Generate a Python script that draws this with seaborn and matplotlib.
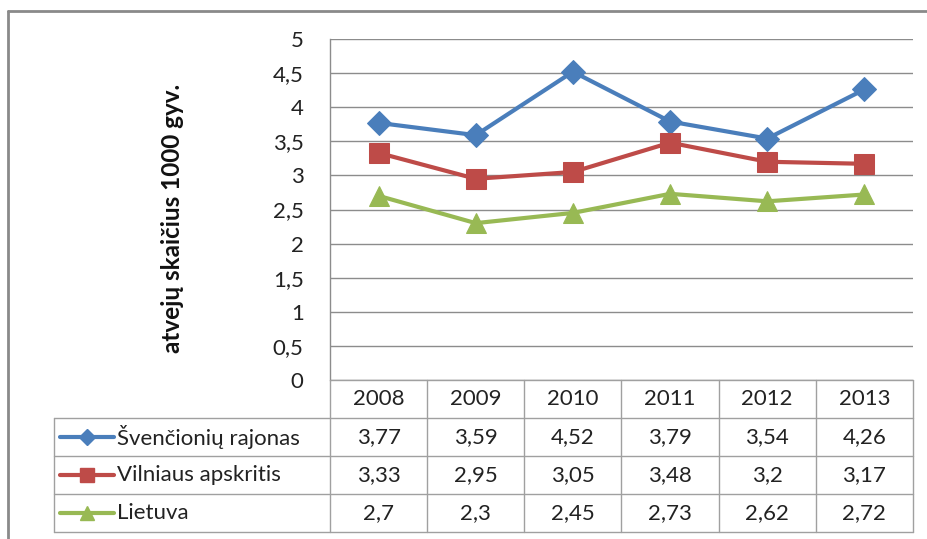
import numpy as np
import pandas as pd
import matplotlib.pyplot as plt
import seaborn as sns
from matplotlib.lines import Line2D

years = ['2008', '2009', '2010', '2011', '2012', '2013']
series_names = ['Švenčionių rajonas', 'Vilniaus apskritis', 'Lietuva']
svencioniu = [3.77, 3.59, 4.52, 3.79, 3.54, 4.26]
vilniaus = [3.33, 2.95, 3.05, 3.48, 3.2, 3.17]
lietuva = [2.7, 2.3, 2.45, 2.73, 2.62, 2.72]
y_ticks = [0, 0.5, 1, 1.5, 2, 2.5, 3, 3.5, 4, 4.5, 5]

colors = ['#4A7EBB', '#BE4B48', '#98B954']
markers = ['D', 's', '^']
msizes = [12, 14, 14]
fs = 16

sns.set_theme(style='white')
plt.rcParams['font.family'] = ['Lato', 'DejaVu Sans']

W, H = 928, 539
fig = plt.figure(figsize=(W / 100, H / 100), dpi=100)

# plot area in pixel coords
px_left, px_right, px_top, px_bottom = 330, 913, 39, 380
ax = fig.add_axes([px_left / W, 1 - px_bottom / H, (px_right - px_left) / W, (px_bottom - px_top) / H])

df = pd.DataFrame({'pos': np.arange(len(years))})
for name, vals, c, m, ms in zip(series_names, [svencioniu, vilniaus, lietuva], colors, markers, msizes):
    sns.lineplot(x=df['pos'], y=vals, ax=ax, color=c, marker=m, markersize=ms,
                 markeredgecolor=c, linewidth=3, zorder=3)

ax.set_xlim(-0.5, len(years) - 0.5)
ax.set_ylim(0, 5)
ax.set_yticks(y_ticks)
ax.set_yticklabels([('%g' % t).replace('.', ',') for t in y_ticks], fontsize=fs, color='#222222')
ax.set_xticks([])
ax.set_xlabel('')
ax.set_ylabel('')
ax.tick_params(axis='y', length=0, pad=19)
for t in y_ticks:
    ax.axhline(t, color='#8c8c8c', linewidth=1, zorder=1)
for s in ['top', 'right', 'bottom']:
    ax.spines[s].set_visible(False)
ax.spines['left'].set_color('#8c8c8c')
ax.spines['left'].set_linewidth(1)

fig.text(172 / W, 1 - 218 / H, 'atvejų skaičius 1000 gyv.', rotation=90,
         ha='center', va='center', fontsize=17.5, fontweight='bold', color='#111111')

# overlay in pixel coords for the data table and frame
ov = fig.add_axes([0, 0, 1, 1], zorder=5)
ov.set_xlim(0, W)
ov.set_ylim(H, 0)
ov.axis('off')
ov.patch.set_alpha(0)

# outer chart frame
ov.plot([8, 8], [11, H + 5], color='#8a8a8a', linewidth=2)
ov.plot([8, W + 5], [11, 11], color='#8a8a8a', linewidth=2)

grid = '#a0a0a0'
col_x = np.linspace(px_left, px_right, len(years) + 1)
row_y = [380, 418, 456, 494, 532]
ov.plot([px_left, px_right], [row_y[0], row_y[0]], color=grid, lw=1)
for y in row_y[1:]:
    ov.plot([54, px_right], [y, y], color=grid, lw=1)
for x in col_x:
    ov.plot([x, x], [row_y[0], row_y[-1]], color=grid, lw=1)
ov.plot([54, 54], [row_y[1], row_y[-1]], color=grid, lw=1)

centers = (col_x[:-1] + col_x[1:]) / 2
for cx, yr in zip(centers, years):
    ov.text(cx, (row_y[0] + row_y[1]) / 2, yr, ha='center', va='center', fontsize=fs, color='#222222')

for i, (name, vals, c, m, ms) in enumerate(zip(series_names, [svencioniu, vilniaus, lietuva], colors, markers, msizes)):
    ymid = (row_y[i + 1] + row_y[i + 2]) / 2
    ov.add_line(Line2D([60, 114], [ymid, ymid], color=c, lw=3))
    ov.plot([87], [ymid], marker=m, color=c, markersize=ms * 0.7, markeredgecolor=c)
    ov.text(117, ymid, name, ha='left', va='center', fontsize=fs, color='#222222')
    for cx, v in zip(centers, vals):
        ov.text(cx, ymid, ('%g' % v).replace('.', ','), ha='center', va='center', fontsize=fs, color='#222222')

fig.savefig('out.png', dpi=100, facecolor='white')
